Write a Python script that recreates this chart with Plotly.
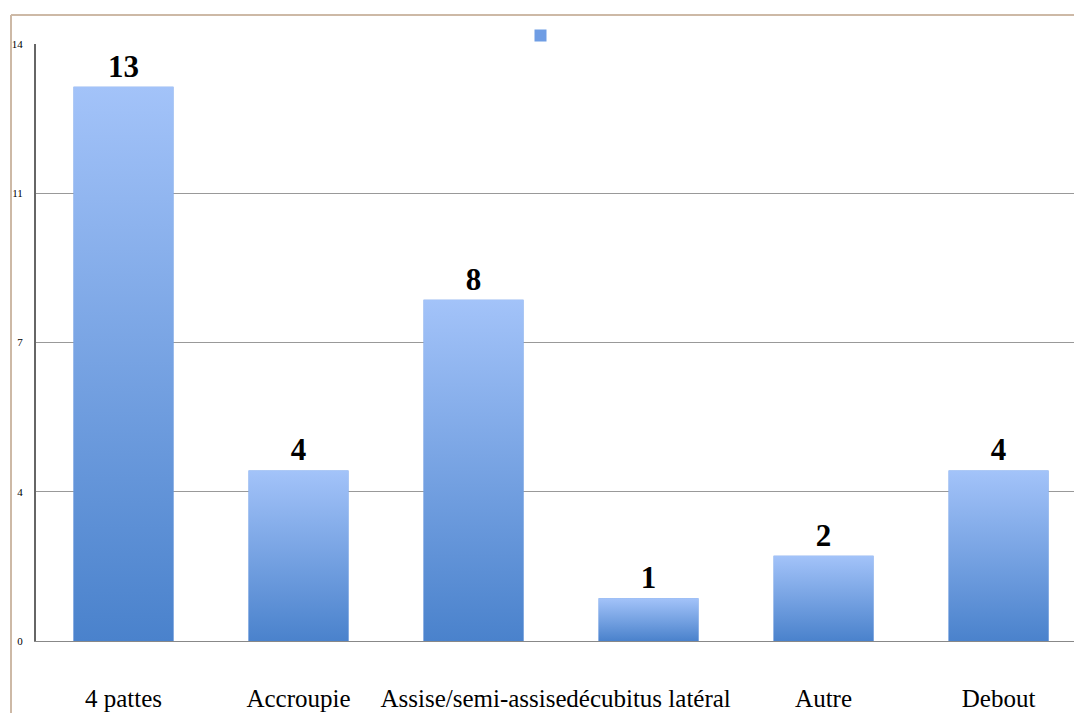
import plotly.graph_objects as go

categories = ["4 pattes", "Accroupie", "Assise/semi-assise", "décubitus latéral", "Autre", "Debout"]
values = [13, 4, 8, 1, 2, 4]
y_tickvals = [0, 3.5, 7, 10.5, 14]
y_ticktext = ["0", "4", "7", "11", "14"]

bar_w = 0.571
idx = list(range(len(categories)))

fig = go.Figure()
fig.add_trace(go.Bar(
    x=idx, y=values, width=bar_w, name=" ",
    marker=dict(color="#6f9de4", line=dict(width=0)),
    text=[str(v) for v in values], textposition="outside", cliponaxis=False,
    textfont=dict(family="Liberation Serif", size=31, color="#000000", weight="bold"),
    showlegend=True,
))
for i, v in zip(idx, values):
    fig.add_trace(go.Scatter(
        x=[i - bar_w / 2, i + bar_w / 2, i + bar_w / 2, i - bar_w / 2, i - bar_w / 2],
        y=[0, 0, v, v, 0],
        mode="lines", line=dict(width=0), fill="toself",
        fillgradient=dict(type="vertical", colorscale=[[0, "#4a82cc"], [1, "#a3c3f9"]]),
        showlegend=False, hoverinfo="skip",
    ))

fig.update_layout(
    width=1074, height=713,
    margin=dict(l=36, r=0, t=44, b=72, autoexpand=False),
    paper_bgcolor="white", plot_bgcolor="white",
    font=dict(family="Liberation Serif", color="#000000"),
    showlegend=True,
    legend=dict(orientation="h", x=0.4894, y=0.99, xanchor="center", yanchor="bottom",
                font=dict(size=8), itemwidth=30, bgcolor="rgba(0,0,0,0)"),
    xaxis=dict(range=[-0.5, 5.431], tickvals=idx, ticktext=categories, tickangle=0, automargin=False,
               showgrid=False, zeroline=False, showline=True, linecolor="#888888", linewidth=1,
               tickfont=dict(size=25), ticklabelstandoff=35, fixedrange=True),
    yaxis=dict(range=[0, 14], tickvals=y_tickvals, ticktext=y_ticktext, automargin=False,
               showgrid=True, gridcolor="#999999", gridwidth=1, zeroline=False,
               showline=True, linecolor="#666666", linewidth=2,
               tickfont=dict(size=11), ticklabelstandoff=9, fixedrange=True),
    bargap=0.43,
    shapes=[
        dict(type="line", xref="paper", yref="paper", x0=-25/1038, x1=1.0, y0=(641-15)/597, y1=(641-15)/597,
             line=dict(color="#cdb9a6", width=2)),
        dict(type="line", xref="paper", yref="paper", x0=-25/1038, x1=-25/1038, y0=(641-15)/597, y1=-72/597,
             line=dict(color="#cdb9a6", width=2)),
    ],
)
fig.write_html("out.html")
